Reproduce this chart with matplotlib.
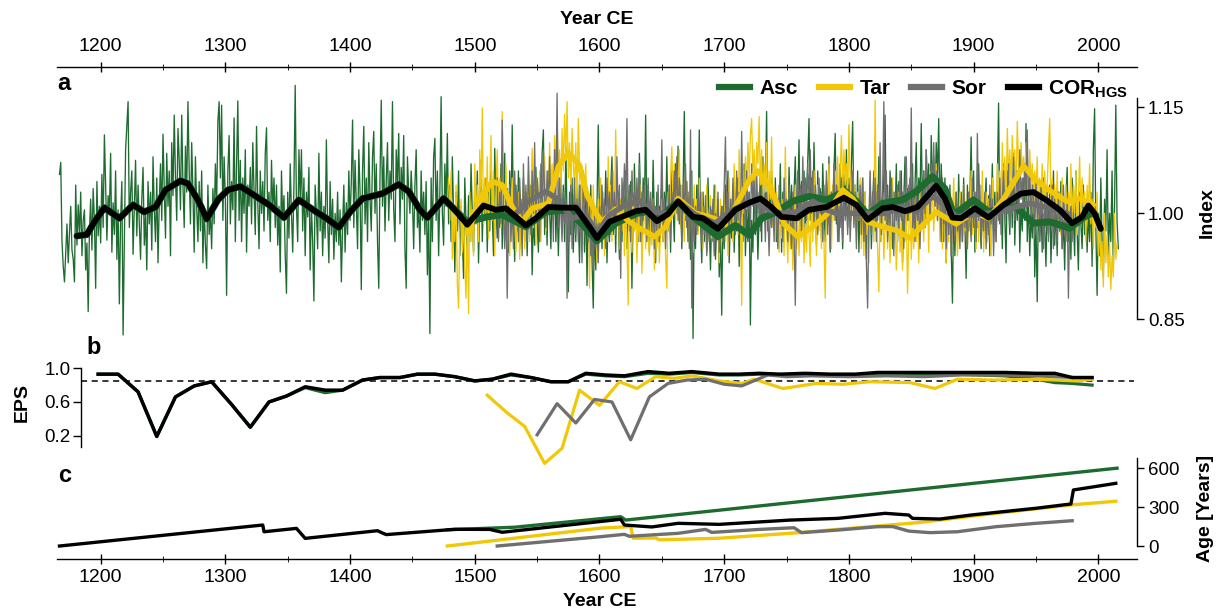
import numpy as np
import matplotlib
matplotlib.use("Agg")
import matplotlib.pyplot as plt
from matplotlib.lines import Line2D
from matplotlib.ticker import FixedLocator

plt.rcParams['font.family'] = ['Liberation Sans', 'DejaVu Sans']
plt.rcParams['mathtext.fontset'] = 'custom'
plt.rcParams['mathtext.rm'] = 'Liberation Sans'
plt.rcParams['mathtext.bf'] = 'Liberation Sans:bold'

# ---- ring-width indices (x1000), one value per year ----
ASC_START = 1167
asc_raw = [
    1055, 1072, 960,
    925, 903, 945, 985, 930, 972, 1010, 948, 935, 903,
    1040, 955, 1012, 968, 1030, 940, 990, 1005, 920, 958,
    861, 975, 1020, 948, 1035, 990, 894, 1045, 968, 1010,
    958, 1055, 980, 1111, 1040, 962, 1025, 1000, 1085, 945,
    1015, 970, 1060, 935, 1005, 872, 990, 1045, 828, 960,
    1090, 1125, 1158, 980, 1030, 1060, 942, 1010, 1075, 968,
    1040, 985, 935, 1020, 1065, 955, 1000, 920, 1045, 985,
    1030, 948, 1080, 1005, 960, 1050, 930, 1015, 1070, 990,
    1112, 1035, 965, 1085, 1010, 1060, 940, 1100, 1025, 1139,
    1050, 990, 1120, 1075, 1005, 1139, 1040, 980, 1095, 1030,
    1158, 1060, 985, 1100, 1030, 945, 1080, 1010, 960, 1045,
    975, 1060, 930, 1010, 955, 922, 1040, 970, 1000, 950,
    1035, 985, 1070, 1010, 1130, 1158, 1050, 1153, 990, 1080,
    1020, 884, 1060, 1110, 985, 1045, 1005, 1135, 960, 1070,
    1159, 990, 1075, 960, 1050, 1000, 1090, 945, 1040, 1010,
    1065, 985, 1100, 1030, 970, 1123, 1015, 950, 1060, 1000,
    1045, 975, 1085, 1121, 990, 1030, 960, 1075, 1005, 1050,
    980, 1040, 955, 1010, 917, 1060, 990, 1025, 940, 887,
    1030, 965, 1070, 1000, 945, 1040, 1181, 1010, 960, 1090,
    1020, 1090, 975, 1050, 940, 1030, 995, 1065, 920, 1010,
    960, 876, 1040, 1000, 950, 1085, 975, 1030, 940, 1010,
    965, 1104, 990, 930, 1045, 970, 1020, 935, 1000, 960,
    1030, 955, 1005, 903, 980, 1040, 945, 1015, 970, 1060,
    990, 1045, 1132, 980, 1075, 1010, 950, 1090, 1030, 892,
    1060, 1123, 985, 1050, 960, 1100, 1020, 975, 1080, 1116,
    1000, 1070, 960, 894, 1050, 1160, 1010, 1080, 975, 1045,
    1100, 990, 1060, 1020, 1158, 1005, 960, 1090, 1040, 1113,
    985, 1065, 1020, 1110, 950, 894, 1080, 1030, 1000, 1060,
    1020, 950, 1040, 1090, 980, 1010, 945, 1060, 990, 1030,
    970, 1045, 913, 1000, 830, 1050, 960, 1080, 1106, 990,
    1060, 940, 1030, 1165, 1000, 955, 1070, 1010, 1113, 985,
    1040, 960, 1080, 1000, 917, 1030, 975, 1060, 940, 1010,
    970, 908, 1050, 985, 940, 1025, 960, 1070, 1000, 945,
    1040, 985, 1060, 930, 1010, 1075, 960, 1020, 990, 1050,
    945, 1030, 975, 1060, 1000, 940, 1092, 1010, 965, 1040,
    980, 1070, 950, 1020, 1085, 970, 1035, 945, 1060, 990,
    1125, 1000, 932, 1040, 975, 1060, 950, 1020, 985, 1050,
    960, 1030, 940, 1010, 970, 1040, 913, 1000, 955, 1065,
    990, 945, 1050, 1000, 1085, 1118, 970, 1030, 955, 1060,
    1005, 950, 1045, 990, 1070, 960, 1025, 940, 1010, 1060,
    975, 1040, 960, 1095, 990, 889, 1030, 970, 1050, 945,
    1015, 960, 1070, 990, 930, 1040, 975, 1010, 945, 1030,
    898, 1000, 955, 1040, 935, 866, 990, 920, 1010, 1125,
    975, 1040, 950, 1015, 985, 1060, 930, 1000, 960, 1035,
    1080, 970, 1020, 945, 1050, 990, 935, 1010, 960, 1040,
    985, 1060, 950, 1020, 975, 1045, 894, 1005, 1070, 990,
    1030, 960, 1085, 1010, 955, 1050, 1000, 1139, 980, 1040,
    945, 1020, 965, 1075, 990, 930, 1030, 960, 1010, 985,
    1050, 960, 1030, 990, 1080, 975, 1040, 945, 1060, 1010,
    960, 1070, 1000, 1095, 985, 1040, 950, 1030, 1144, 990,
    1045, 960, 1020, 935, 1060, 823, 1000, 950, 1040, 975,
    1118, 990, 930, 1030, 960, 1010, 945, 1050, 985, 920,
    1005, 960, 1040, 935, 985, 1020, 910, 975, 856, 1010,
    950, 1040, 985, 1060, 930, 1000, 965, 1035, 945, 1010,
    975, 1050, 925, 990, 1030, 960, 1070, 940, 1005, 960,
    1030, 842, 990, 945, 1050, 970, 1020, 935, 1000, 1060,
    960, 1080, 990, 1030, 1144, 975, 1045, 990, 1060, 1005,
    980, 1050, 960, 1020, 995, 1070, 945, 1030, 975, 1040,
    1000, 955, 1065, 990, 1040, 950, 1030, 1080, 985, 1020,
    1104, 970, 1045, 995, 1060, 960, 1030, 1075, 1134, 990,
    1050, 975, 1100, 1010, 955, 1060, 990, 1035, 965, 1070,
    1010, 960, 1045, 990, 1080, 945, 1030, 1000, 1060, 1113,
    985, 1040, 960, 1070, 1010, 950, 1055, 1000, 1090, 980,
    1050, 1010, 1070, 1130, 990, 1040, 975, 1060, 945, 1020,
    990, 1050, 960, 1030, 935, 1005, 970, 1040, 950, 1015,
    1060, 975, 1030, 990, 1080, 960, 1020, 1000, 1050, 1139,
    985, 1040, 970, 1060, 1005, 950, 1030, 990, 1070, 960,
    1045, 995, 1060, 930, 1020, 1080, 975, 1035, 990, 1050,
    1010, 1070, 965, 1040, 1100, 990, 1050, 1020, 1127, 1000,
    1060, 980, 1090, 1030, 1070, 995, 1110, 1040, 1080, 1010,
    1100, 1050, 1134, 990, 1070, 1020, 960, 1050, 930, 1000,
    970, 1040, 950, 873, 1010, 940, 1030, 960, 1055, 985,
    1030, 960, 1050, 985, 908, 1040, 975, 1020, 1108, 990,
    1060, 945, 1030, 980, 1070, 1000, 950, 1040, 965, 1010,
    1050, 960, 1025, 940, 1000, 1070, 975, 1030, 960, 1045,
    1156, 985, 1040, 950, 1070, 995, 930, 1060, 1010, 970,
    1045, 980, 1085, 955, 1030, 990, 1060, 945, 1010, 975,
    1050, 990, 1127, 960, 1020, 940, 1000, 965, 1040, 910,
    985, 875, 1030, 960, 1010, 945, 1050, 980, 925, 1020,
    970, 1040, 930, 990, 1060, 955, 1010, 940, 1030, 975,
    1045, 950, 990, 920, 1020, 1065, 960, 1000, 935, 1050,
    990, 940, 1060, 975, 920, 1030, 985, 950, 1040, 970,
    1010, 945, 1000, 960, 1030, 925, 1090, 1148, 980, 884,
    1000, 940, 1050, 960, 910, 1020, 975, 1090, 940, 1000,
    960, 1060, 920, 1010, 1153, 990, 950,
]

TAR_START = 1479
tar_raw = [
    1050,
    990, 1060, 935, 1010, 960, 1040, 900, 866, 975, 1020,
    945, 1000, 925, 880, 990, 858, 1030, 960, 1005, 940,
    1070, 990, 1040, 960, 1090, 1020, 1149, 985, 1050, 1000,
    1080, 965, 1040, 1110, 990, 1060, 940, 1030, 1090, 1000,
    1050, 980, 1144, 1020, 960, 1070, 995, 1030, 940, 1010,
    1050, 960, 1020, 945, 990, 1030, 935, 1000, 970, 1040,
    950, 1010, 985, 1060, 960, 1020, 1092, 980, 1035, 955,
    1050, 990, 1060, 960, 1030, 1000, 1080, 975, 1045, 1010,
    1100, 1030, 1070, 990, 1110, 1050, 1132, 1060, 1090, 1020,
    1120, 1060, 1140, 1080, 1158, 1050, 1100, 1030, 1120, 1070,
    1040, 1100, 1010, 1134, 1060, 990, 1050, 960, 1020, 1070,
    985, 1030, 894, 1010, 960, 1040, 975, 1000, 930, 1020,
    965, 1050, 990, 1030, 940, 1010, 960, 1080, 995, 1040,
    960, 1060, 1000, 1118, 985, 1030, 950, 1020, 975, 1045,
    940, 1010, 960, 870, 1030, 990, 945, 1060, 975, 1010,
    930, 1000, 960, 1040, 915, 985, 1030, 950, 1010, 965,
    940, 1000, 955, 1020, 920, 990, 950, 1010, 930, 975,
    1020, 960, 1000, 940, 894, 1030, 975, 1050, 1094, 1010,
    1070, 990, 1060, 1020, 1090, 980, 1040, 1000, 960, 1050,
    990, 1030, 960, 1060, 1000, 945, 1040, 985, 1020, 970,
    1050, 985, 1030, 950, 1010, 975, 1040, 960, 1000, 1025,
    965, 1010, 945, 1040, 975, 1000, 930, 1020, 960, 990,
    1030, 960, 1010, 940, 1050, 985, 1020, 960, 1070, 1000,
    1040, 970, 1090, 1010, 870, 1060, 1000, 1080, 1030, 1100,
    1050, 1110, 1134, 1060, 1090, 1020, 1100, 1070, 1137, 1040,
    1090, 1010, 1070, 1030, 1100, 990, 1060, 1020, 1108, 980,
    1040, 960, 1030, 990, 945, 1010, 965, 1020, 940, 1094,
    985, 930, 1010, 950, 1000, 920, 975, 1040, 950, 990,
    940, 1000, 960, 1020, 930, 985, 945, 1010, 970, 925,
    1030, 960, 1060, 995, 940, 1040, 975, 1010, 950, 1000,
    960, 880, 1030, 985, 1070, 1010, 950, 1040, 990, 1060,
    1020, 1080, 990, 1060, 1110, 1030, 1090, 1040, 1070, 1010,
    1125, 1050, 990, 1060, 985, 1040, 960, 1030, 990, 1050,
    950, 1010, 940, 1030, 970, 1000, 930, 1060, 985, 1020,
    960, 1160, 1000, 950, 889, 1010, 960, 1030, 935, 985,
    1040, 950, 1010, 930, 990, 1050, 960, 1000, 920, 970,
    1030, 945, 990, 920, 1010, 960, 1000, 887, 970, 1040,
    935, 990, 950, 1020, 960, 1000, 930, 1040, 975, 1010,
    960, 1050, 990, 1030, 945, 1060, 1000, 1040, 975, 1020,
    1070, 990, 1030, 960, 1010, 950, 1040, 980, 930, 1000,
    960, 1020, 945, 990, 1050, 970, 1010, 940, 985, 1030,
    1000, 960, 1040, 975, 1020, 950, 1010, 985, 1060, 970,
    1030, 990, 950, 1040, 960, 1010, 975, 1060, 945, 1000,
    1030, 960, 1020, 985, 940, 1050, 995, 1010, 960, 1070,
    1010, 1060, 990, 1100, 1030, 1080, 1010, 1120, 1050, 1090,
    1040, 1110, 1060, 1090, 1020, 1130, 1070, 1040, 1100, 1060,
    1080, 1030, 1100, 1050, 1010, 1090, 1040, 1070, 1000, 1060,
    1030, 1080, 990, 1050, 1020, 1070, 1000, 1060, 1010, 1040,
    1090, 1134, 1010, 1050, 980, 1040, 1000, 1060, 990, 1030,
    970, 1050, 1010, 980, 1040, 960, 1030, 1000, 1070, 985,
    1040, 1000, 1060, 970, 1020, 1080, 990, 1050, 1010, 1030,
    960, 1040, 1000, 1070, 985, 1020, 950, 1010, 980, 1030,
    940, 990, 920, 960, 896, 1000, 930, 970, 910, 960,
    892, 940, 910, 1000, 935, 958,
]

SOR_START = 1518
sor_raw = [
    1050, 960,
    1030, 985, 1132, 1000, 950, 1020, 880, 990, 1040, 960,
    1010, 950, 1060, 990, 1030, 960, 1050, 1000, 940, 1070,
    985, 1040, 960, 1080, 1010, 970, 1060, 1000, 1100, 990,
    1050, 1020, 960, 1070, 1000, 1090, 1030, 980, 1060, 1010,
    1080, 1000, 1040, 960, 1090, 1020, 1170, 980, 1050, 1000,
    960, 1030, 985, 1020, 880, 1010, 960, 1040, 950, 1000,
    1050, 970, 1020, 960, 1040, 990, 930, 1060, 1000, 980,
    1030, 960, 1010, 940, 990, 920, 1000, 950, 985, 930,
    1010, 960, 1040, 990, 1020, 950, 1050, 1000, 1030, 970,
    1060, 990, 1030, 970, 1080, 1000, 1040, 908, 1050, 1010,
    1070, 1000, 1134, 990, 1040, 960, 1060, 1010, 1030, 980,
    1050, 1000, 1070, 960, 1030, 990, 1040, 1010, 960, 1050,
    990, 1030, 970, 1020, 950, 1010, 975, 1040, 960, 1000,
    1104, 980, 1020, 950, 1010, 990, 1040, 960, 1030, 1000,
    1060, 1010, 1080, 990, 1050, 1020, 960, 1040, 1000, 1070,
    980, 1030, 950, 1118, 866, 1020, 960, 1010, 970, 1040,
    990, 1030, 955, 1000, 970, 1025, 940, 990, 960, 1010,
    975, 1020, 940, 1000, 960, 1030, 945, 990, 1010, 960,
    1040, 1108, 990, 1030, 960, 1020, 985, 1050, 1000, 970,
    1060, 990, 1030, 980, 1116, 1010, 1040, 970, 1060, 1000,
    1030, 980, 1070, 1010, 1045, 990, 1060, 1000, 1030, 975,
    1040, 990, 1020, 960, 1030, 1000, 940, 1010, 980, 1020,
    960, 1030, 1000, 950, 1040, 985, 1010, 960, 1050, 990,
    1020, 960, 1040, 990, 950, 1030, 975, 870, 1010, 1060,
    990, 1040, 970, 1080, 1010, 1050, 990, 1070, 1020, 1090,
    1000, 1060, 980, 1040, 1010, 970, 1050, 1000, 1030, 960,
    1040, 990, 1060, 970, 1020, 950, 1030, 1000, 1070, 990,
    1040, 960, 1010, 980, 1050, 960, 1030, 990, 1020, 970,
    1040, 960, 1010, 1060, 980, 1030, 950, 1020, 990, 1040,
    970, 1050, 960, 1010, 930, 866, 990, 1060, 970, 1030,
    990, 1050, 960, 1040, 1000, 1100, 970, 1030, 1158, 990,
    1060, 960, 1020, 980, 1050, 1000, 940, 1030, 990, 1040,
    970, 1060, 990, 1030, 950, 1020, 1080, 990, 1040, 1000,
    1149, 980, 1020, 960, 1040, 990, 1010, 950, 1030, 980,
    1060, 1000, 1090, 1020, 1050, 990, 1070, 1030, 1100, 1010,
    1060, 990, 1040, 1020, 960, 1050, 985, 1010, 950, 1030,
    970, 1020, 940, 990, 1010, 960, 1030, 975, 1000, 950,
    1020, 960, 1040, 980, 1010, 950, 1030, 990, 960, 1050,
    980, 1030, 960, 1113, 990, 1040, 960, 1010, 975, 1030,
    950, 1010, 970, 1040, 985, 1020, 940, 1000, 960, 1030,
    990, 1050, 970, 1020, 1060, 990, 1030, 1000, 1070, 980,
    1040, 1000, 1080, 990, 1030, 1060, 1000, 1090, 1020, 1050,
    1000, 1070, 1030, 1118, 1010, 1060, 990, 1040, 1020, 970,
    1050, 990, 1030, 960, 1040, 1000, 950, 1020, 980, 1030,
    960, 1010, 985, 1040, 950, 1020, 990, 960, 1030, 975,
    1000, 950, 1040, 990, 960, 1020, 880, 990, 1010, 960,
    1000,
]

# ---- low-pass curves (year, index) ----
cor_sm_years = [1181, 1189, 1195, 1203, 1215, 1226, 1235, 1244, 1252, 1264, 1270, 1278,
                1285, 1294, 1302, 1312, 1321, 1335, 1347, 1359, 1372, 1381, 1391, 1400,
                1410, 1426, 1439, 1447, 1456, 1462, 1475, 1484, 1494, 1507, 1517, 1525,
                1541, 1549, 1559, 1570, 1581, 1592, 1598, 1608, 1618, 1629, 1637, 1646,
                1655, 1663, 1675, 1683, 1695, 1709, 1720, 1729, 1737, 1746, 1758, 1768,
                1782, 1796, 1806, 1815, 1827, 1835, 1845, 1855, 1870, 1877, 1883, 1890,
                1901, 1912, 1924, 1938, 1948, 1958, 1969, 1979, 1987, 1992, 1997, 2002]
cor_sm = [0.968, 0.970, 0.988, 1.008, 0.993, 1.012, 1.002, 1.009, 1.033, 1.046, 1.042, 1.019,
          0.992, 1.019, 1.033, 1.038, 1.028, 1.012, 0.994, 1.019, 1.003, 0.993, 0.980, 1.002,
          1.021, 1.028, 1.041, 1.031, 1.005, 0.994, 1.021, 1.005, 0.984, 1.011, 1.005, 1.007,
          0.983, 0.993, 1.009, 1.008, 1.008, 0.981, 0.965, 0.988, 0.995, 1.003, 1.005, 0.989,
          0.999, 1.017, 0.995, 0.993, 0.978, 1.005, 1.015, 1.021, 1.010, 0.995, 0.993, 1.005,
          1.009, 1.022, 1.012, 0.991, 1.007, 1.009, 1.003, 1.009, 1.039, 1.021, 0.994, 0.993,
          1.007, 0.994, 1.012, 1.028, 1.030, 1.019, 1.005, 0.986, 0.995, 1.011, 1.000, 0.978]

asc_sm_years = [1181, 1189, 1195, 1203, 1215, 1226, 1235, 1244, 1252, 1264, 1270, 1278,
                1285, 1294, 1302, 1312, 1321, 1335, 1347, 1359, 1372, 1381, 1391, 1400,
                1410, 1426, 1439, 1447, 1456, 1462, 1475, 1484, 1494, 1510, 1522, 1541,
                1557, 1575, 1589, 1598, 1613, 1630, 1640, 1647, 1663, 1675, 1695, 1709,
                1720, 1730, 1742, 1755, 1768, 1782, 1797, 1806, 1815, 1827, 1843, 1854,
                1867, 1877, 1884, 1900, 1912, 1924, 1934, 1948, 1961, 1977, 1989, 1995]
asc_sm = [0.968, 0.970, 0.988, 1.008, 0.993, 1.012, 1.002, 1.009, 1.033, 1.046, 1.042, 1.019,
          0.992, 1.019, 1.033, 1.038, 1.028, 1.012, 0.994, 1.019, 1.003, 0.993, 0.980, 1.002,
          1.021, 1.028, 1.041, 1.031, 1.005, 0.994, 1.021, 1.005, 0.988, 0.995, 0.998, 0.981,
          1.002, 1.005, 0.979, 0.961, 0.986, 1.000, 1.003, 0.991, 1.017, 0.995, 0.967, 0.983,
          0.969, 0.993, 1.002, 1.017, 1.024, 1.019, 1.031, 1.017, 0.998, 1.014, 1.019, 1.031,
          1.052, 1.035, 0.998, 1.019, 1.002, 1.007, 1.009, 0.986, 0.988, 0.979, 0.995, 1.000]

tar_sm_years = [1494, 1506, 1514, 1522, 1530, 1538, 1546, 1559, 1567, 1575, 1584, 1590,
                1598, 1602, 1613, 1624, 1632, 1644, 1653, 1663, 1677, 1688, 1699, 1709,
                1720, 1727, 1736, 1742, 1748, 1759, 1771, 1782, 1795, 1803, 1815, 1827,
                1838, 1849, 1859, 1870, 1886, 1900, 1912, 1924, 1940, 1950, 1962, 1975,
                1985, 1996]
tar_sm = [0.972, 1.026, 1.045, 1.040, 1.009, 0.988, 1.007, 1.014, 1.066, 1.086, 1.068, 1.026,
          0.998, 0.988, 1.006, 0.988, 0.979, 0.967, 0.981, 1.021, 1.000, 0.995, 0.988, 1.009,
          1.047, 1.060, 1.040, 1.015, 0.985, 0.967, 0.981, 0.998, 1.033, 1.021, 0.988, 0.981,
          0.976, 0.965, 0.983, 1.002, 0.985, 1.002, 0.993, 1.020, 1.067, 1.047, 1.031, 1.017,
          1.021, 1.012]

sor_sm_years = [1533, 1543, 1557, 1567, 1578, 1589, 1598, 1608, 1621, 1632, 1642, 1655,
                1663, 1677, 1693, 1704, 1715, 1725, 1736, 1746, 1758, 1771, 1782, 1790,
                1830, 1843, 1854, 1867, 1877, 1886, 1900, 1921, 1934, 1945, 1960, 1975]
sor_sm = [1.000, 1.017, 1.031, 1.019, 0.993, 0.998, 0.972, 0.998, 1.012, 1.017, 1.002, 1.000,
          1.017, 0.998, 0.986, 1.002, 1.012, 1.017, 1.005, 1.000, 1.002, 1.017, 1.005, 1.000,
          1.000, 1.010, 1.002, 1.024, 1.012, 0.995, 0.998, 1.002, 1.009, 1.014, 1.008, 1.000]

# ---- running EPS ----
eps_years = [1198, 1214, 1230, 1245, 1260, 1275, 1289, 1305, 1320, 1335, 1349, 1364,
             1380, 1394, 1410, 1424, 1440, 1454, 1468, 1484, 1500, 1514, 1529, 1545,
             1561, 1575, 1589, 1605, 1620, 1639, 1656, 1674, 1696, 1712, 1728, 1745,
             1765, 1785, 1805, 1823, 1845, 1865, 1887, 1905, 1925, 1950, 1965, 1979, 1995]
eps_cor = [0.93, 0.93, 0.72, 0.19, 0.66, 0.79, 0.84, 0.57, 0.30, 0.60, 0.67, 0.78,
           0.74, 0.74, 0.86, 0.89, 0.89, 0.93, 0.93, 0.90, 0.85, 0.87, 0.93, 0.89,
           0.84, 0.84, 0.94, 0.92, 0.91, 0.96, 0.94, 0.96, 0.93, 0.93, 0.94, 0.93,
           0.94, 0.93, 0.93, 0.95, 0.95, 0.95, 0.95, 0.95, 0.95, 0.94, 0.94, 0.89, 0.89]
eps_asc = [0.93, 0.93, 0.72, 0.19, 0.66, 0.79, 0.84, 0.57, 0.30, 0.60, 0.67, 0.77,
           0.71, 0.74, 0.86, 0.89, 0.89, 0.93, 0.93, 0.90, 0.85, 0.87, 0.92, 0.89,
           0.84, 0.84, 0.93, 0.91, 0.90, 0.94, 0.93, 0.95, 0.92, 0.92, 0.93, 0.92,
           0.93, 0.92, 0.92, 0.94, 0.94, 0.93, 0.93, 0.92, 0.91, 0.87, 0.83, 0.82, 0.80]
eps_tar_years = [1510, 1526, 1540, 1556, 1570, 1584, 1600, 1616, 1630, 1645, 1660, 1674,
                 1696, 1714, 1724, 1747, 1774, 1795, 1817, 1849, 1869, 1887, 1918, 1950,
                 1982, 1995]
eps_tar = [0.68, 0.47, 0.31, -0.13, 0.05, 0.74, 0.56, 0.84, 0.76, 0.90, 0.88, 0.91,
           0.85, 0.82, 0.87, 0.76, 0.82, 0.81, 0.84, 0.83, 0.76, 0.87, 0.86, 0.87,
           0.85, 0.87]
eps_sor_years = [1550, 1566, 1581, 1596, 1610, 1625, 1640, 1655, 1670, 1685, 1700, 1714,
                 1735, 1750, 1770, 1800, 1830, 1860, 1890, 1920, 1950, 1980]
eps_sor = [0.21, 0.58, 0.35, 0.63, 0.60, 0.15, 0.66, 0.82, 0.86, 0.87, 0.81, 0.79,
           0.92, 0.90, 0.91, 0.90, 0.91, 0.90, 0.92, 0.92, 0.91, 0.89]
EPS_THRESHOLD = 0.85

# ---- mean tree age ----
age_cor_years = [1167, 1330, 1331, 1357, 1364, 1422, 1426, 1429, 1484, 1512, 1522, 1617,
                 1620, 1642, 1663, 1696, 1753, 1791, 1829, 1848, 1851, 1873, 1898, 1950,
                 1978, 1980, 2014]
age_cor = [0, 162, 110, 136, 59, 118, 100, 88, 129, 128, 106, 206,
           162, 147, 175, 167, 200, 213, 252, 239, 213, 208, 239, 291,
           324, 432, 483]
age_asc_years = [1478, 1532, 1617, 1621, 2015]
age_asc = [125, 145, 226, 200, 600]
age_tar_years = [1478, 1601, 1625, 1627, 1645, 1648, 1696, 1760, 1823, 1855, 1918, 1977, 2014]
age_tar = [0, 138, 150, 60, 62, 48, 60, 103, 154, 180, 252, 316, 345]
age_sor_years = [1518, 1601, 1620, 1624, 1663, 1685, 1690, 1728, 1756, 1762, 1791, 1823,
                 1835, 1848, 1865, 1887, 1918, 1950, 1979]
age_sor = [0, 72, 90, 75, 98, 128, 105, 128, 141, 103, 123, 149,
           150, 115, 103, 110, 149, 175, 195]

GREEN = '#1e6b30'
YELLOW = '#f0c808'
GREY = '#6f6f6f'
BLACK = '#000000'

asc = np.array(asc_raw) / 1000
tar = np.array(tar_raw) / 1000
sor = np.array(sor_raw) / 1000
asc_years = np.arange(ASC_START, ASC_START + len(asc))
tar_years = np.arange(TAR_START, TAR_START + len(tar))
sor_years = np.arange(SOR_START, SOR_START + len(sor))

W, H = 1223, 612
fig = plt.figure(figsize=(W / 100, H / 100), dpi=100)


def box(x0, y0, x1, y1):
    # pixel box (top-left origin) -> figure fraction rect
    return [x0 / W, 1 - y1 / H, (x1 - x0) / W, (y1 - y0) / H]


XLIM = (1165, 2031)
ax_a = fig.add_axes(box(57, 67, 1137, 342))
ax_b = fig.add_axes(box(57, 350, 1137, 472))
ax_c = fig.add_axes(box(57, 450, 1137, 559))
for ax in (ax_a, ax_b, ax_c):
    ax.set_xlim(*XLIM)
    ax.patch.set_alpha(0)
    for s in ax.spines.values():
        s.set_visible(False)
        s.set_linewidth(1.0)
    ax.tick_params(labelsize=14, width=1.0)

# panel a
lw_raw = 0.95
smooth = dict(solid_capstyle='round', solid_joinstyle='round')
ax_a.plot(asc_years, asc, color=GREEN, lw=lw_raw)
ax_a.plot(tar_years, tar, color=YELLOW, lw=lw_raw)
ax_a.plot(sor_years, sor, color=GREY, lw=lw_raw)
ax_a.plot(asc_sm_years, asc_sm, color=GREEN, lw=5.0, **smooth)
ax_a.plot(tar_sm_years, tar_sm, color=YELLOW, lw=4.0, **smooth)
ax_a.plot(sor_sm_years, sor_sm, color=GREY, lw=4.0, **smooth)
ax_a.plot(cor_sm_years, cor_sm, color=BLACK, lw=4.2, **smooth)
ax_a.set_ylim(0.818, 1.207)
ax_a.spines['top'].set_visible(True)
ax_a.spines['right'].set_visible(True)
ax_a.spines['right'].set_bounds(0.85, 1.163)
ax_a.xaxis.tick_top()
ax_a.yaxis.tick_right()
ax_a.set_xticks(np.arange(1200, 2001, 100))
ax_a.xaxis.set_minor_locator(FixedLocator(np.arange(1250, 2000, 100)))
ax_a.tick_params(axis='x', which='major', direction='inout', length=7, pad=5)
ax_a.tick_params(axis='x', which='minor', direction='inout', length=4)
ax_a.set_yticks([0.85, 1.00, 1.15])
ax_a.set_yticklabels(['0.85', '1.00', '1.15'])
ax_a.tick_params(axis='y', direction='out', length=5, pad=3, labelsize=13.5)

legend_handles = [Line2D([], [], color=GREEN, lw=4.5),
                  Line2D([], [], color=YELLOW, lw=4.5),
                  Line2D([], [], color=GREY, lw=4.5),
                  Line2D([], [], color=BLACK, lw=4.5)]
fig.legend(legend_handles, ['Asc', 'Tar', 'Sor', r'$\mathbf{COR_{HGS}}$'],
           loc='center right', bbox_to_anchor=(1128 / W, 1 - 89 / H),
           ncol=4, frameon=False, handlelength=1.5, handletextpad=0.45,
           columnspacing=1.0, borderpad=0, borderaxespad=0,
           prop={'weight': 'bold', 'size': 15})

# panel b
ax_b.axhline(EPS_THRESHOLD, xmin=(1184 - XLIM[0]) / (XLIM[1] - XLIM[0]), xmax=0.997,
             color=BLACK, lw=1.1, ls=(0, (4, 3)))
ax_b.plot(eps_years, eps_asc, color=GREEN, lw=2.3)
ax_b.plot(eps_tar_years, eps_tar, color=YELLOW, lw=2.3)
ax_b.plot(eps_sor_years, eps_sor, color=GREY, lw=2.3)
ax_b.plot(eps_years, eps_cor, color=BLACK, lw=2.5)
ax_b.set_ylim(-0.232, 1.217)
ax_b.spines['left'].set_visible(True)
ax_b.spines['left'].set_position(('data', 1184))
ax_b.spines['left'].set_bounds(0.065, 1.0)
ax_b.set_xticks([])
ax_b.set_yticks([0.2, 0.6, 1.0])
ax_b.set_yticklabels(['0.2', '0.6', '1.0'])
ax_b.tick_params(axis='y', direction='out', length=6, pad=1, labelsize=13.5)

# panel c
ax_c.plot(age_asc_years, age_asc, color=GREEN, lw=2.4)
ax_c.plot(age_tar_years, age_tar, color=YELLOW, lw=2.4)
ax_c.plot(age_sor_years, age_sor, color=GREY, lw=2.4)
ax_c.plot(age_cor_years, age_cor, color=BLACK, lw=2.4)
ax_c.set_ylim(-100, 740)
ax_c.spines['bottom'].set_visible(True)
ax_c.spines['right'].set_visible(True)
ax_c.spines['right'].set_bounds(0, 680)
ax_c.yaxis.tick_right()
ax_c.set_yticks([0, 300, 600])
ax_c.tick_params(axis='y', direction='out', length=5, pad=3, labelsize=13.5)
ax_c.set_xticks(np.arange(1200, 2001, 100))
ax_c.xaxis.set_minor_locator(FixedLocator(np.arange(1250, 2000, 100)))
ax_c.tick_params(axis='x', which='major', direction='inout', length=7, pad=4)
ax_c.tick_params(axis='x', which='minor', direction='inout', length=4)


# axis titles and panel letters
def px_text(x, y, s, **kw):
    fig.text(x / W, 1 - y / H, s, ha='center', va='center', fontweight='bold', **kw)


px_text(597, 20, 'Year CE', fontsize=14)
px_text(600, 602, 'Year CE', fontsize=14)
px_text(1207, 213, 'Index', fontsize=14, rotation=90)
px_text(22, 402, 'EPS', fontsize=14, rotation=90)
px_text(1206, 508, 'Age [Years]', fontsize=14, rotation=90)
px_text(64, 83, 'a', fontsize=17)
px_text(94, 348, 'b', fontsize=17)
px_text(65, 476, 'c', fontsize=17)

fig.savefig('out.png', dpi=100)
